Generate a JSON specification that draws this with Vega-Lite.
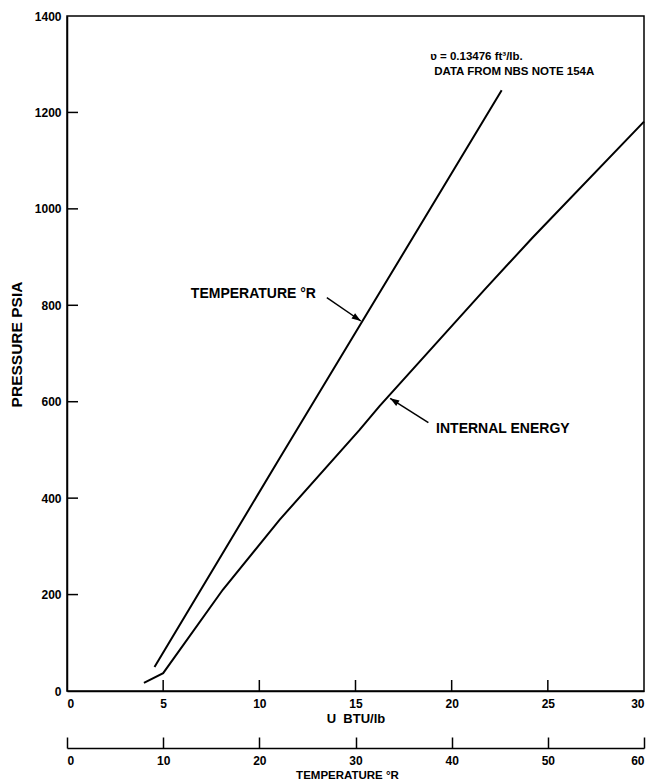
{
  "$schema": "https://vega.github.io/schema/vega-lite/v6.json",
  "width": 577,
  "height": 675,
  "autosize": {"type": "none"},
  "padding": {"left": 67, "top": 16, "right": 8, "bottom": 93},
  "background": "white",
  "config": {
    "font": "Liberation Sans",
    "view": {"stroke": "black", "strokeWidth": 1.5},
    "axis": {
      "grid": false,
      "domainColor": "black", "domainWidth": 1.5,
      "tickColor": "black", "tickWidth": 1.5,
      "labelColor": "black", "labelFont": "Liberation Sans", "labelFontWeight": "bold", "labelFontSize": 12,
      "titleColor": "black", "titleFont": "Liberation Sans", "titleFontWeight": "bold", "titleFontSize": 12
    }
  },
  "datasets": {
    "energy": [
      {"U": 4.0, "P": 17},
      {"U": 5.0, "P": 37},
      {"U": 8.1, "P": 210},
      {"U": 11.05, "P": 355},
      {"U": 15.2, "P": 541},
      {"U": 16.25, "P": 591},
      {"U": 21.7, "P": 832},
      {"U": 24.2, "P": 940},
      {"U": 30.0, "P": 1181}
    ],
    "temperature": [
      {"T": 9.1, "P": 50},
      {"T": 22.0, "P": 479},
      {"T": 32.2, "P": 816},
      {"T": 45.2, "P": 1246}
    ],
    "uticks": [
      {"U": 5, "P": 0}, {"U": 10, "P": 0}, {"U": 15, "P": 0}, {"U": 20, "P": 0}, {"U": 25, "P": 0}
    ],
    "pticks": [
      {"U": 0, "P": 200}, {"U": 0, "P": 400}, {"U": 0, "P": 600}, {"U": 0, "P": 800},
      {"U": 0, "P": 1000}, {"U": 0, "P": 1200}
    ],
    "arrows": [
      {"name": "temperature", "U": 13.51, "P": 815.7, "U2": 15.28, "P2": 767.4},
      {"name": "energy", "U": 18.79, "P": 556.5, "U2": 16.8, "P2": 607.1}
    ],
    "labels": [
      {"label": "TEMPERATURE °R", "U": 6.44, "P": 823.4},
      {"label": "INTERNAL ENERGY", "U": 19.19, "P": 543.4}
    ],
    "notes": [
      {"label": "ʋ = 0.13476 ft³/lb.", "U": 18.88, "P": 1314},
      {"label": "DATA FROM NBS NOTE 154A", "U": 19.09, "P": 1284}
    ]
  },
  "layer": [
    {
      "layer": [
        {
          "data": {"name": "energy"},
          "mark": {"type": "line", "color": "black", "strokeWidth": 2},
          "encoding": {
            "x": {"field": "U", "type": "quantitative",
              "scale": {"domain": [0, 30], "nice": false, "zero": false},
              "axis": {"orient": "bottom", "values": [0, 5, 10, 15, 20, 25, 30], "title": "U\u00a0\u00a0BTU/lb",
                "format": "d", "ticks": false, "labelPadding": 7, "titlePadding": 3, "titleFontSize": 13}},
            "y": {"field": "P", "type": "quantitative",
              "scale": {"domain": [0, 1400], "nice": false},
              "axis": {"orient": "left", "values": [0, 200, 400, 600, 800, 1000, 1200, 1400], "title": "PRESSURE PSIA",
                "format": "d", "ticks": false, "labelPadding": 6, "titlePadding": 10, "titleFontSize": 15.5,
                "titleY": 328}}
          }
        },
        {
          "data": {"name": "uticks"},
          "mark": {"type": "tick", "orient": "vertical", "color": "black", "opacity": 1, "size": 11, "thickness": 1.5, "yOffset": -5.5},
          "encoding": {
            "x": {"field": "U", "type": "quantitative", "title": "U\u00a0\u00a0BTU/lb"},
            "y": {"field": "P", "type": "quantitative", "title": "PRESSURE PSIA"}
          }
        },
        {
          "data": {"name": "pticks"},
          "mark": {"type": "tick", "orient": "horizontal", "color": "black", "opacity": 1, "size": 11, "thickness": 1.5, "xOffset": 5.5},
          "encoding": {
            "x": {"field": "U", "type": "quantitative", "title": "U\u00a0\u00a0BTU/lb"},
            "y": {"field": "P", "type": "quantitative", "title": "PRESSURE PSIA"}
          }
        },
        {
          "data": {"name": "arrows"},
          "mark": {"type": "rule", "color": "black", "strokeWidth": 1.5},
          "encoding": {
            "x": {"field": "U", "type": "quantitative", "title": "U\u00a0\u00a0BTU/lb"},
            "y": {"field": "P", "type": "quantitative", "title": "PRESSURE PSIA"},
            "x2": {"field": "U2"},
            "y2": {"field": "P2"}
          }
        },
        {
          "data": {"name": "arrows"},
          "transform": [{"filter": "datum.name === 'temperature'"}],
          "mark": {"type": "point", "filled": true, "color": "black", "opacity": 1, "size": 200,
            "shape": "M0,0L0.45,1.3L-0.45,1.3Z", "angle": 124.4},
          "encoding": {
            "x": {"field": "U2", "type": "quantitative", "title": "U\u00a0\u00a0BTU/lb"},
            "y": {"field": "P2", "type": "quantitative", "title": "PRESSURE PSIA"}
          }
        },
        {
          "data": {"name": "arrows"},
          "transform": [{"filter": "datum.name === 'energy'"}],
          "mark": {"type": "point", "filled": true, "color": "black", "opacity": 1, "size": 200,
            "shape": "M0,0L0.45,1.3L-0.45,1.3Z", "angle": 302.5},
          "encoding": {
            "x": {"field": "U2", "type": "quantitative", "title": "U\u00a0\u00a0BTU/lb"},
            "y": {"field": "P2", "type": "quantitative", "title": "PRESSURE PSIA"}
          }
        },
        {
          "data": {"name": "labels"},
          "mark": {"type": "text", "align": "left", "baseline": "middle", "fontSize": 14,
            "fontWeight": "bold", "font": "Liberation Sans", "color": "black"},
          "encoding": {
            "x": {"field": "U", "type": "quantitative", "title": "U\u00a0\u00a0BTU/lb"},
            "y": {"field": "P", "type": "quantitative", "title": "PRESSURE PSIA"},
            "text": {"field": "label"}
          }
        },
        {
          "data": {"name": "notes"},
          "mark": {"type": "text", "align": "left", "baseline": "middle", "fontSize": 11.5,
            "fontWeight": "bold", "font": "Liberation Sans", "color": "black"},
          "encoding": {
            "x": {"field": "U", "type": "quantitative", "title": "U\u00a0\u00a0BTU/lb"},
            "y": {"field": "P", "type": "quantitative", "title": "PRESSURE PSIA"},
            "text": {"field": "label"}
          }
        }
      ]
    },
    {
      "layer": [
        {
          "data": {"name": "temperature"},
          "mark": {"type": "line", "color": "black", "strokeWidth": 2},
          "encoding": {
            "x": {"field": "T", "type": "quantitative",
              "scale": {"domain": [0, 60], "nice": false, "zero": false},
              "axis": {"orient": "bottom", "offset": 57, "values": [0, 10, 20, 30, 40, 50, 60],
                "title": "TEMPERATURE °R", "format": "d", "ticks": false, "labelPadding": 7, "titlePadding": 3,
                "titleFontSize": 11.5, "titleX": 280}},
            "y": {"field": "P", "type": "quantitative", "axis": null}
          }
        },
        {
          "data": {"name": "temperature"},
          "mark": {"type": "line", "color": "black", "strokeWidth": 2, "opacity": 0},
          "encoding": {
            "x": {"field": "T", "type": "quantitative",
              "axis": {"orient": "bottom", "offset": 46, "values": [0, 10, 20, 30, 40, 50, 60],
                "ticks": true, "tickSize": 11, "domain": false, "labels": false, "title": null}},
            "y": {"field": "P", "type": "quantitative", "axis": null}
          }
        }
      ],
      "resolve": {"axis": {"x": "independent"}}
    }
  ],
  "resolve": {"scale": {"x": "independent"}, "axis": {"x": "independent", "y": "independent"}}
}
